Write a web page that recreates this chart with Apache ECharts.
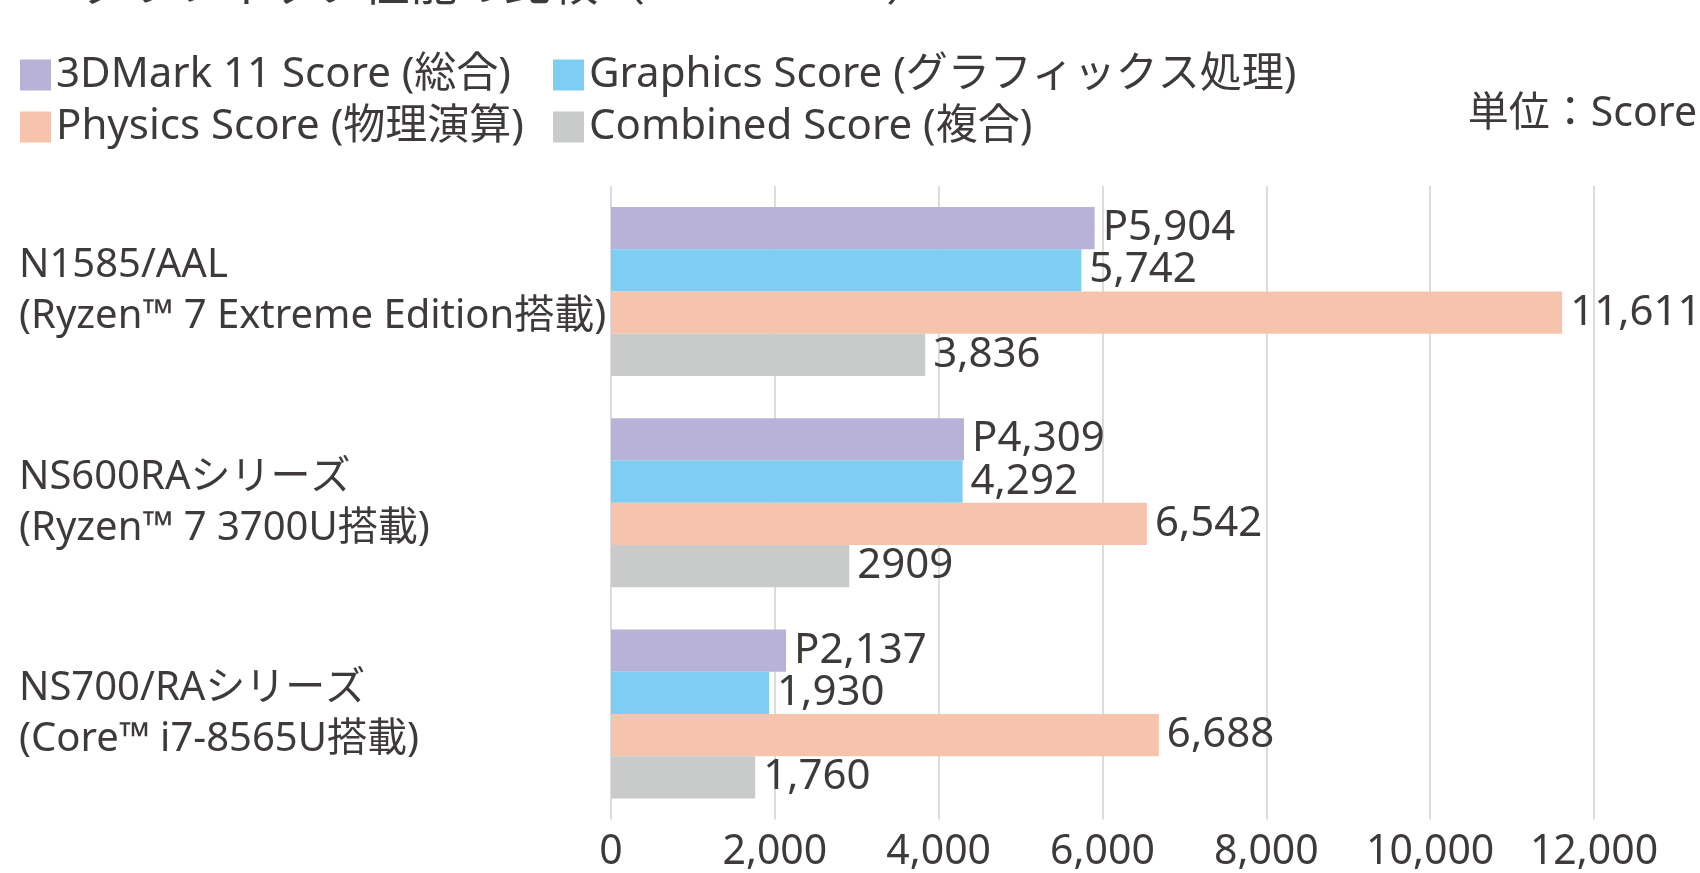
<!DOCTYPE html>
<html lang="ja">
<head>
<meta charset="utf-8">
<title>3Dグラフィック性能の比較</title>
<script src="https://cdn.jsdelivr.net/npm/echarts@6/dist/echarts.min.js"></script>
<style>
    html, body { margin: 0; padding: 0; background: #fff; }
    #chart { width: 1700px; height: 873px; }
</style>
</head>
<body>
<div id="chart"></div>
<script>
// 機種（上から順）
const models = [
    "N1585/AAL\n(Ryzen™ 7 Extreme Edition搭載)",
    "NS600RAシリーズ\n(Ryzen™ 7 3700U搭載)",
    "NS700/RAシリーズ\n(Core™ i7-8565U搭載)"
];

const seriesNames = [
    "3DMark 11 Score (総合)",
    "Graphics Score (グラフィックス処理)",
    "Physics Score (物理演算)",
    "Combined Score (複合)"
];

// スコア
const overallScore = [5904, 4309, 2137];
const graphicsScore = [5742, 4292, 1930];
const physicsScore = [11611, 6542, 6688];
const combinedScore = [3836, 2909, 1760];

// 棒の右に出すラベル（原図の表記のまま）
const overallLabels = ["P5,904", "P4,309", "P2,137"];
const graphicsLabels = ["5,742", "4,292", "1,930"];
const physicsLabels = ["11,611", "6,542", "6,688"];
const combinedLabels = ["3,836", "2909", "1,760"];

// x軸の目盛り
const xMin = 0;
const xMax = 12000;
const xStep = 2000;

const titleText = "3Dグラフィック性能の比較（3DMark 11）";
const unitText = "単位：Score";

const colors = ["#b9b2d8", "#7ecef4", "#f6c4ad", "#c9caca"];
const textColor = "#3e3a39";
const fontFamily = "'Noto Sans', 'Noto Sans CJK JP', sans-serif";

const buildSeries = () => {
    const values = [overallScore, graphicsScore, physicsScore, combinedScore];
    const labels = [overallLabels, graphicsLabels, physicsLabels, combinedLabels];
    return values.map((data, i) => ({
        name: seriesNames[i],
        type: "bar",
        data: data,
        barGap: "0%",
        barCategoryGap: "20%",
        itemStyle: { color: colors[i] },
        label: {
            show: true,
            position: "right",
            distance: 8,
            fontSize: 42,
            fontFamily: fontFamily,
            color: textColor,
            formatter: p => labels[i][p.dataIndex]
        }
    }));
};

// 凡例は2列2行、列をそろえるため1項目ずつ置く
const legendSlots = [
    { left: 20, top: 53 },
    { left: 553, top: 53 },
    { left: 20, top: 105 },
    { left: 553, top: 105 }
];
const buildLegends = () =>
    seriesNames.map((name, i) => ({
        data: [name],
        left: legendSlots[i].left,
        top: legendSlots[i].top,
        padding: 0,
        icon: "rect",
        itemWidth: 31,
        itemHeight: 31,
        selectedMode: false,
        textStyle: {
            fontSize: 42,
            lineHeight: 44,
            fontFamily: fontFamily,
            color: textColor
        }
    }));

const chart = echarts.init(document.getElementById("chart"));

const option = {
    backgroundColor: "#ffffff",
    animation: false,
    title: [
        {
            text: titleText,
            left: 20,
            top: -37,
            padding: 0,
            textStyle: {
                fontSize: 47,
                lineHeight: 47,
                fontWeight: "normal",
                fontFamily: fontFamily,
                color: textColor
            }
        },
        {
            text: unitText,
            right: 3,
            top: 94,
            padding: 0,
            textStyle: {
                fontSize: 41,
                lineHeight: 41,
                fontWeight: "normal",
                fontFamily: fontFamily,
                color: textColor
            }
        }
    ],
    legend: buildLegends(),
    grid: {
        left: 611,
        right: 106,
        top: 186,
        bottom: 48,
        containLabel: false
    },
    xAxis: {
        type: "value",
        min: xMin,
        max: xMax,
        interval: xStep,
        axisLine: { show: false },
        axisTick: { show: false },
        splitLine: {
            show: true,
            lineStyle: { color: "#d0d0d0", width: 1.5 }
        },
        axisLabel: {
            fontSize: 41,
            lineHeight: 40,
            margin: 13,
            fontFamily: fontFamily,
            color: textColor,
            formatter: v => v.toLocaleString("en-US")
        }
    },
    yAxis: {
        type: "category",
        data: models,
        inverse: true,
        axisLine: { show: false },
        axisTick: { show: false },
        axisLabel: {
            align: "left",
            margin: 592,
            fontSize: 40,
            lineHeight: 51,
            fontFamily: fontFamily,
            color: textColor
        }
    },
    series: buildSeries()
};

chart.setOption(option);
</script>
</body>
</html>
